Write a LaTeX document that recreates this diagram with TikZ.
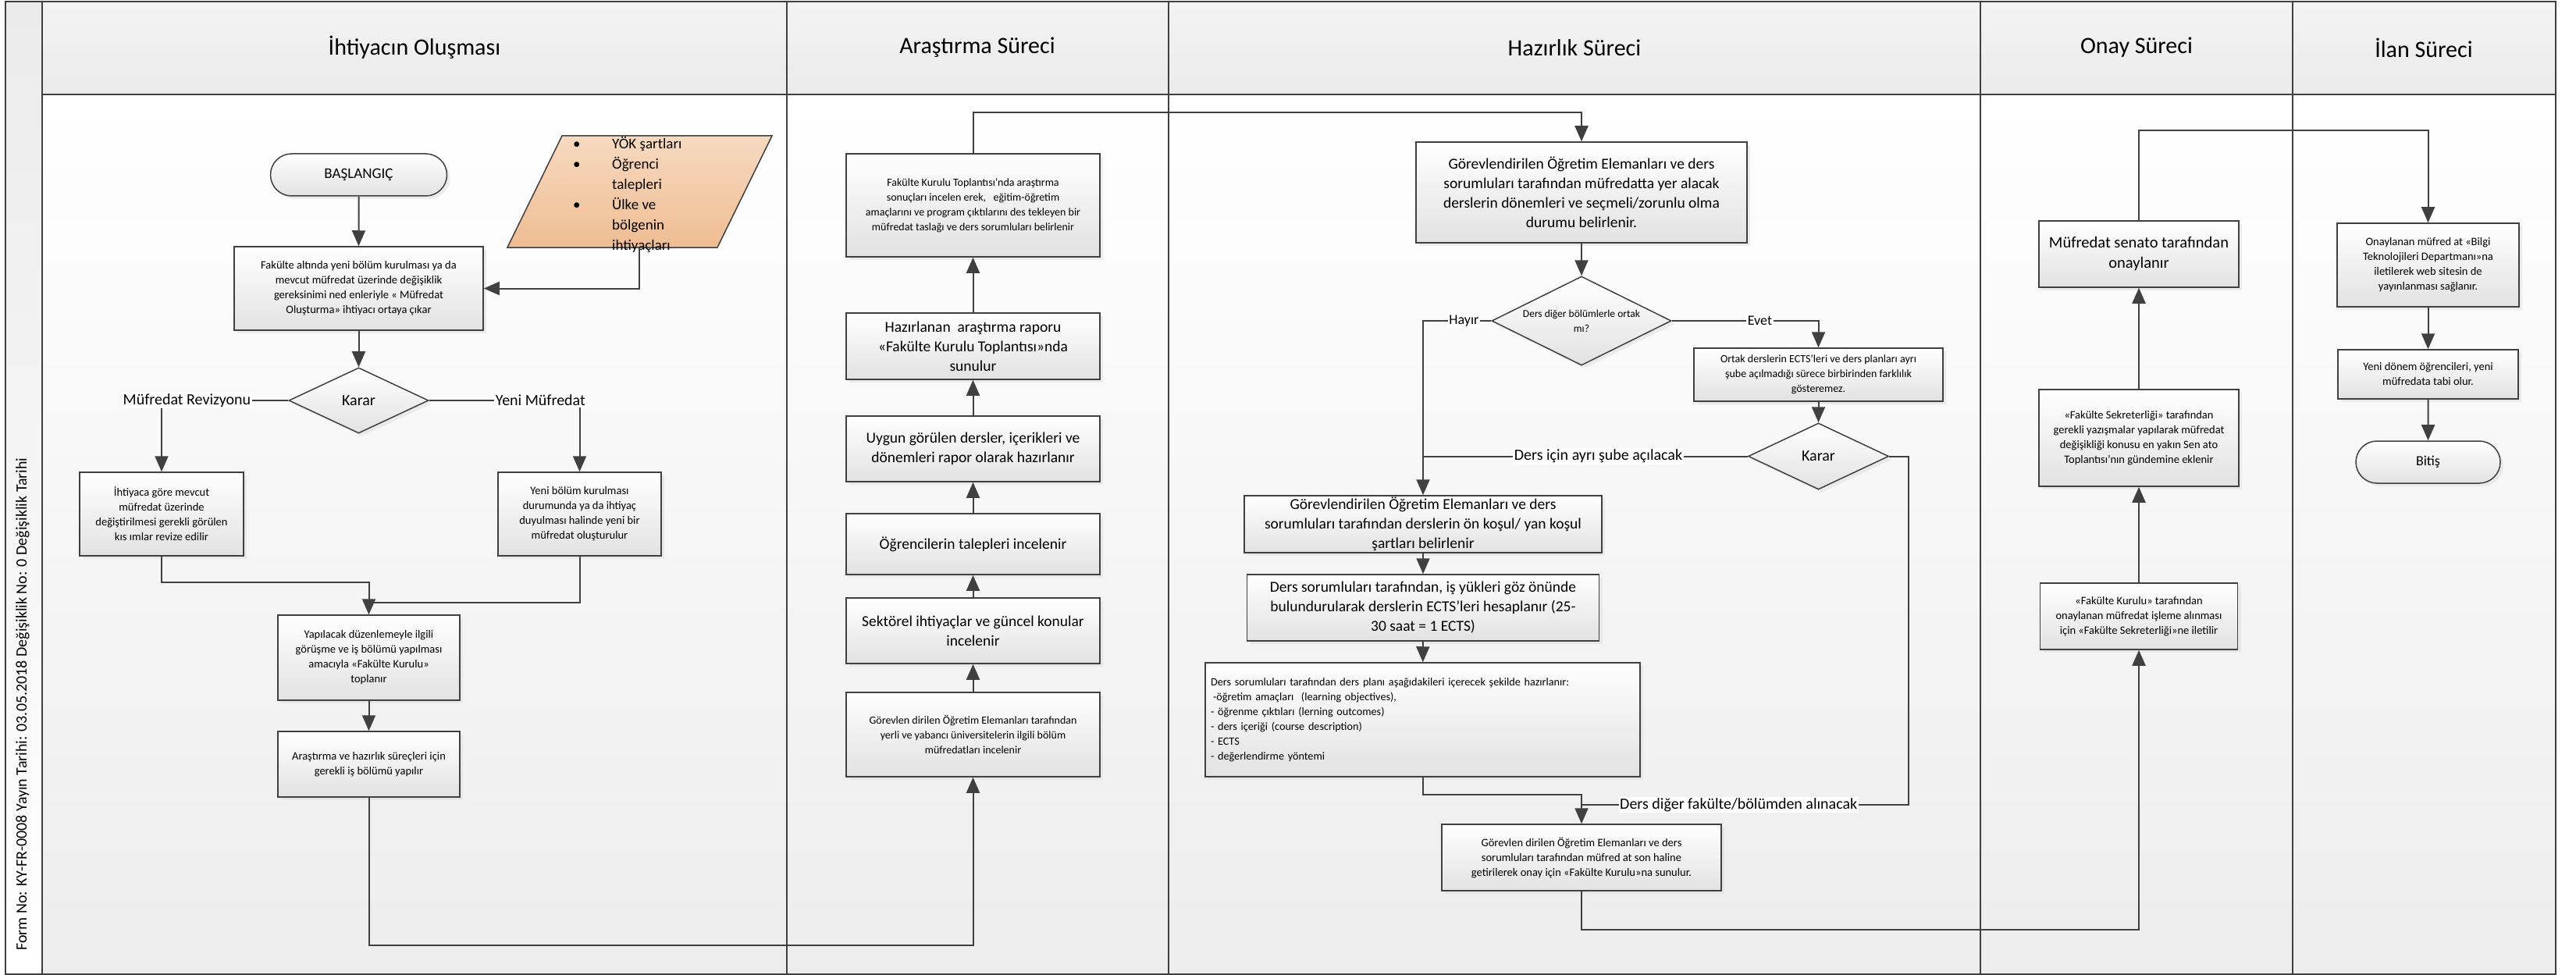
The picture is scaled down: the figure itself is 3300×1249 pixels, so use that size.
\documentclass[tikz,border=0pt]{standalone}
\usepackage{fontspec}
\setmainfont{Carlito}
\usetikzlibrary{arrows.meta,shapes.geometric,shapes.misc,shadows,calc}
\definecolor{cizgi}{HTML}{404040}
\definecolor{kutualt}{HTML}{E2E2E2}
\definecolor{govde}{HTML}{EDEDED}
\definecolor{baslik}{HTML}{EBEBEB}
\definecolor{girdiust}{HTML}{F7DAC0}
\definecolor{girdialt}{HTML}{EFBD93}
\newcommand{\kucuk}{\fontsize{14.5}{19}\selectfont}
\newcommand{\orta}{\fontsize{19.5}{25}\selectfont}
\newcommand{\etiket}{\fontsize{20}{24}\selectfont}
\newcommand{\kulvar}{\fontsize{30}{36}\selectfont}

\begin{document}
\begin{tikzpicture}[x=1pt, y=-1pt,
                    main/.style = {draw=cizgi, line width=1.5pt, top color=white, bottom color=kutualt, align=center, inner sep=0pt,
                                   drop shadow={shadow xshift=4pt, shadow yshift=-4pt, fill=black!13}},
                    kutu/.style 2 args = {main, minimum width=#1pt, minimum height=#2pt},
                    uc/.style = {main, rounded rectangle},
                    karar/.style = {main, diamond},
                    ok/.style = {draw=cizgi, line width=2pt, -{Triangle[width=17pt, length=20pt]}},
                    hat/.style = {draw=cizgi, line width=2pt},
                    etk/.style = {fill=white, inner sep=1.5pt, font=\etiket}]
                    \useasboundingbox (0,0) rectangle (3300,1249);

                    % kulvarlar
                    \shade[top color=white, bottom color=govde] (54,121) rectangle (3274,1248);
                    \shade[top color=baslik!60, bottom color=baslik] (54,2) rectangle (3274,121);
                    \shade[top color=baslik, bottom color=white] (7,2) rectangle (54,1248);
                    \draw[cizgi, line width=1.5pt] (7,2) rectangle (3274,1248);
                    \draw[cizgi, line width=1.5pt] (54,2) -- (54,1248);
                    \draw[cizgi, line width=2pt] (54,121) -- (3274,121);
                    \foreach \x in {1008,1497,2537,2937}
                        \draw[cizgi, line width=1.5pt] (\x,2) -- (\x,1248);

                    \node[font=\kulvar] (h1) at (531,61) {İhtiyacın Oluşması};
                    \node[font=\kulvar] (h2) at (1252,61) {Araştırma Süreci};
                    \node[font=\kulvar] (h3) at (2017,61) {Hazırlık Süreci};
                    \node[font=\kulvar] (h4) at (2737,61) {Onay Süreci};
                    \node[font=\kulvar] (h5) at (3105,61) {İlan Süreci};
                    \node[rotate=90, font=\fontsize{20}{24}\selectfont] (kunye) at (29,902)
                        {Form No: KY-FR-0008 Yayın Tarihi: 03.05.2018 Değişiklik No: 0 Değişiklik Tarihi};

                    % ihtiyacin olusmasi
                    \node[uc, minimum width=226pt, minimum height=54pt, font=\fontsize{19}{23}\selectfont] (bas) at (459.5,224) {BAŞLANGIÇ};
                    \filldraw[draw=cizgi, line width=1.5pt, top color=girdiust, bottom color=girdialt]
                        (720,174) -- (989,174) -- (919,317) -- (650,317) -- cycle;
                    \node[anchor=north west, inner sep=0pt, font=\fontsize{19}{26}\selectfont] (girdi) at (734,172)
                        {\begin{tabular}{@{}p{50pt}@{}l@{}}
                         \textbullet & YÖK şartları\\ \textbullet & Öğrenci\\ & talepleri\\
                         \textbullet & Ülke ve\\ & bölgenin\\ & ihtiyaçları
                         \end{tabular}};
                    \coordinate (girdi-alt) at (819,317);
                    \node[kutu={319}{107}, font=\kucuk] (fak) at (459.5,369.5)
                        {Fakülte altında yeni bölüm kurulması ya da\\mevcut müfredat üzerinde değişiklik\\gereksinimi ned enleriyle « Müfredat\\Oluşturma» ihtiyacı ortaya çıkar};
                    \node[karar, minimum width=179pt, minimum height=84pt, font=\etiket] (karar1) at (459.5,513) {Karar};
                    \node[kutu={210}{107}, font=\kucuk] (rev) at (207,658.5)
                        {İhtiyaca göre mevcut\\müfredat üzerinde\\değiştirilmesi gerekli görülen\\kıs ımlar revize edilir};
                    \node[kutu={209}{107}, font=\kucuk] (yeni) at (742.5,658.5)
                        {Yeni bölüm kurulması\\durumunda ya da ihtiyaç\\duyulması halinde yeni bir\\müfredat oluşturulur};
                    \node[kutu={233}{109}, font=\kucuk] (topla) at (472.5,842.5)
                        {Yapılacak düzenlemeyle ilgili\\görüşme ve iş bölümü yapılması\\amacıyla «Fakülte Kurulu»\\toplanır};
                    \node[kutu={233}{84}, font=\kucuk] (isb) at (472.5,979)
                        {Araştırma ve hazırlık süreçleri için\\gerekli iş bölümü yapılır};
                    \coordinate (j1) at (472.5,772);

                    \draw[ok] (bas) -- (fak);
                    \draw[ok] (girdi-alt) |- (fak);
                    \draw[ok] (fak) -- (karar1);
                    \draw[ok] (karar1.west) -| node[etk, pos=0.4] {Müfredat Revizyonu} (rev);
                    \draw[ok] (karar1.east) -| node[etk, pos=0.37] {Yeni Müfredat} (yeni);
                    \draw[hat] (yeni.south) |- (j1);
                    \draw[ok] (rev.south) -- ++(0,33) -| (topla.north);
                    \draw[ok] (topla) -- (isb);

                    % arastirma sureci
                    \node[kutu={325}{132}, font=\fontsize{14}{19}\selectfont] (fkt) at (1246.5,263)
                        {Fakülte Kurulu Toplantısı’nda araştırma\\sonuçları incelen erek,~~ eğitim-öğretim\\amaçlarını ve program çıktılarını des tekleyen bir\\müfredat taslağı ve ders sorumluları belirlenir};
                    \node[kutu={325}{85}, font=\orta] (rapor) at (1246.5,443.5)
                        {Hazırlanan~ araştırma raporu\\«Fakülte Kurulu Toplantısı»nda\\sunulur};
                    \node[kutu={325}{84}, font=\orta] (uygun) at (1246.5,575)
                        {Uygun görülen dersler, içerikleri ve\\dönemleri rapor olarak hazırlanır};
                    \node[kutu={325}{78}, font=\orta] (ogr) at (1246.5,697) {Öğrencilerin talepleri incelenir};
                    \node[kutu={325}{84}, font=\orta] (sektor) at (1246.5,808)
                        {Sektörel ihtiyaçlar ve güncel konular\\incelenir};
                    \node[kutu={325}{108}, font=\fontsize{14}{19}\selectfont] (gorev) at (1246.5,941)
                        {Görevlen dirilen Öğretim Elemanları tarafından\\yerli ve yabancı üniversitelerin ilgili bölüm\\müfredatları incelenir};

                    \draw[ok] (isb.south) -- ++(0,189) -| (gorev.south);
                    \draw[ok] (gorev) -- (sektor);
                    \draw[ok] (sektor) -- (ogr);
                    \draw[ok] (ogr) -- (uygun);
                    \draw[ok] (uygun) -- (rapor);
                    \draw[ok] (rapor) -- (fkt);

                    % hazirlik sureci
                    \node[kutu={424}{129}, font=\orta] (belir) at (2026,246.5)
                        {Görevlendirilen Öğretim Elemanları ve ders\\sorumluları tarafından müfredatta yer alacak\\derslerin dönemleri ve seçmeli/zorunlu olma\\durumu belirlenir.};
                    \node[karar, minimum width=230pt, minimum height=114pt] (karar2) at (2026,411) {};
                    \node[align=center, font=\fontsize{13.5}{19}\selectfont] (karar2-yazi) at (karar2) {Ders diğer bölümlerle ortak\\mı?};
                    \node[kutu={319}{68}, font=\fontsize{14}{19}\selectfont] (ortak) at (2329.5,480)
                        {Ortak derslerin ECTS’leri ve ders planları ayrı\\şube açılmadığı sürece birbirinden farklılık\\gösteremez.};
                    \node[karar, minimum width=180pt, minimum height=85pt, font=\etiket] (karar3) at (2329.5,584.5) {Karar};
                    \node[kutu={458}{73}, font=\orta] (onkosul) at (1823,671.5)
                        {Görevlendirilen Öğretim Elemanları ve ders\\sorumluları tarafından derslerin ön koşul/ yan koşul\\şartları belirlenir};
                    \node[kutu={451}{85}, font=\orta] (ects) at (1823,778.5)
                        {Ders sorumluları tarafından, iş yükleri göz önünde\\bulundurularak derslerin ECTS’leri hesaplanır (25-\\30 saat = 1 ECTS)};
                    \node[kutu={557}{146}, text width=543pt, align=left, font=\fontsize{14.2}{19}\selectfont] (plan) at (1822.5,922)
                        {Ders sorumluları tarafından ders planı aşağıdakileri içerecek şekilde hazırlanır:\\
                         \hspace*{3pt}-öğretim amaçları~ (learning objectives),\\
                         - öğrenme çıktıları (lerning outcomes)\\
                         - ders içeriği (course description)\\
                         - ECTS\\
                         - değerlendirme yöntemi};
                    \node[kutu={358}{85}, font=\kucuk] (son) at (2026,1098.5)
                        {Görevlen dirilen Öğretim Elemanları ve ders\\sorumluları tarafından müfred at son haline\\getirilerek onay için «Fakülte Kurulu»na sunulur.};
                    \coordinate (j2) at (onkosul.north |- karar3.west);
                    \coordinate (j3) at ($(son.north)+(0,-24)$);

                    \draw[ok] (fkt.north) -- ++(0,-52) -| (belir.north);
                    \draw[ok] (belir) -- (karar2);
                    \draw[ok] (karar2.west) -| node[etk, pos=0.2, font=\fontsize{18}{22}\selectfont] {Hayır} (onkosul);
                    \draw[ok] (karar2.east) -| node[etk, pos=0.3, font=\fontsize{18}{22}\selectfont] {Evet} (ortak);
                    \draw[ok] (ortak) -- (karar3);
                    \draw[hat] (karar3.west) -- node[etk, pos=0.46] {Ders için ayrı şube açılacak} (j2);
                    \draw[hat] (karar3.east) -- ++(25,0) |- node[etk, pos=0.76] {Ders diğer fakülte/bölümden alınacak} (j3);
                    \draw[ok] (onkosul) -- (ects);
                    \draw[ok] (ects) -- (plan);
                    \draw[ok] (plan.south) -- ++(0,22) -| (son.north);

                    % onay sureci
                    \node[kutu={256}{85}, font=\fontsize{20.5}{26}\selectfont] (senato) at (2740,325.5)
                        {Müfredat senato tarafından\\onaylanır};
                    \node[kutu={256}{124}, font=\kucuk] (sekr) at (2740,561)
                        {«Fakülte Sekreterliği» tarafından\\gerekli yazışmalar yapılarak müfredat\\değişikliği konusu en yakın Sen ato\\Toplantısı’nın gündemine eklenir};
                    \node[kutu={253}{85}, font=\kucuk] (pkur) at (2740,789.5)
                        {«Fakülte Kurulu» tarafından\\onaylanan müfredat işleme alınması\\için «Fakülte Sekreterliği»ne iletilir};

                    \draw[ok] (son.south) -- ++(0,49) -| (pkur.south);
                    \draw[ok] (pkur) -- (sekr);
                    \draw[ok] (sekr) -- (senato);

                    % ilan sureci
                    \node[kutu={233}{107}, font=\kucuk] (ilan) at (3110.5,339.5)
                        {Onaylanan müfred at «Bilgi\\Teknolojileri Departmanı»na\\iletilerek web sitesin de\\yayınlanması sağlanır.};
                    \node[kutu={231}{63}, font=\kucuk] (donem) at (3110.5,479.5)
                        {Yeni dönem öğrencileri, yeni\\müfredata tabi olur.};
                    \node[uc, minimum width=185pt, minimum height=54pt, font=\fontsize{18}{22}\selectfont] (bitis) at (3110.5,592) {Bitiş};

                    \draw[ok] (senato.north) -- ++(0,-115) -| (ilan.north);
                    \draw[ok] (ilan) -- (donem);
                    \draw[ok] (donem) -- (bitis);
                \end{tikzpicture}
\end{document}
